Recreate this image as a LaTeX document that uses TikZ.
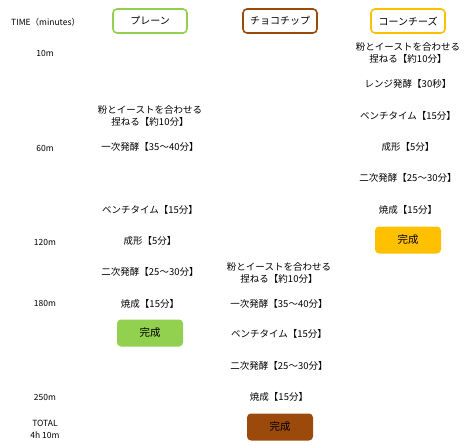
\documentclass[tikz,border=0pt]{standalone}
\usepackage{fontspec}
\setmainfont{Noto Sans CJK JP}
\definecolor{plaing}{HTML}{92D050}
\definecolor{chocob}{HTML}{9C4A0C}
\definecolor{corny}{HTML}{FFC000}
\begin{document}
\begin{tikzpicture}[x=1pt,y=-1pt,
  every node/.style={font=\fontsize{9.5}{12}\selectfont, inner sep=0pt, align=center},
  head/.style={draw, line width=1.6pt, rounded corners=4pt, minimum width=74pt, minimum height=24pt, fill=white, font=\fontsize{10}{12}\selectfont},
  done/.style={rounded corners=4pt, minimum width=66pt, minimum height=27pt, font=\fontsize{10.5}{12}\selectfont},
  tlabel/.style={font=\fontsize{8.5}{12}\selectfont}]
\useasboundingbox (0,0) rectangle (468,444);
% time axis
\node[tlabel, anchor=west] (th) at (11,22) {TIME（minutes）};
\node[tlabel] (t10) at (45,53) {10m};
\node[tlabel] (t60) at (45,148) {60m};
\node[tlabel] (t120) at (45,242) {120m};
\node[tlabel] (t180) at (45,303) {180m};
\node[tlabel] (t250) at (45,397) {250m};
\node[tlabel] (ttot) at (45,429) {TOTAL\\4h 10m};
% headers
\node[head, draw=plaing] (hp) at (150,21) {プレーン};
\node[head, draw=chocob] (hc) at (280,21) {チョコチップ};
\node[head, draw=corny] (hk) at (408,21) {コーンチーズ};
% plain
\node (p1) at (150,116) {粉とイーストを合わせる\\捏ねる【約10分】};
\node (p2) at (150,147) {一次発酵【35～40分】};
\node (p3) at (150,210) {ベンチタイム【15分】};
\node (p4) at (150,241) {成形【5分】};
\node (p5) at (150,272) {二次発酵【25～30分】};
\node (p6) at (150,304) {焼成【15分】};
\node[done, fill=plaing] (p7) at (150,333) {完成};
% choco
\node (c1) at (279,273) {粉とイーストを合わせる\\捏ねる【約10分】};
\node (c2) at (279,304) {一次発酵【35～40分】};
\node (c3) at (279,334) {ベンチタイム【15分】};
\node (c4) at (279,366) {二次発酵【25～30分】};
\node (c5) at (279,397) {焼成【15分】};
\node[done, fill=chocob] (c6) at (280,427) {完成};
% corn
\node (k1) at (408,53) {粉とイーストを合わせる\\捏ねる【約10分】};
\node (k2) at (408,84) {レンジ発酵【30秒】};
\node (k3) at (408,116) {ベンチタイム【15分】};
\node (k4) at (408,147) {成形【5分】};
\node (k5) at (408,178) {二次発酵【25～30分】};
\node (k6) at (408,210) {焼成【15分】};
\node[done, fill=corny] (k7) at (408,240) {完成};
\end{tikzpicture}
\end{document}
